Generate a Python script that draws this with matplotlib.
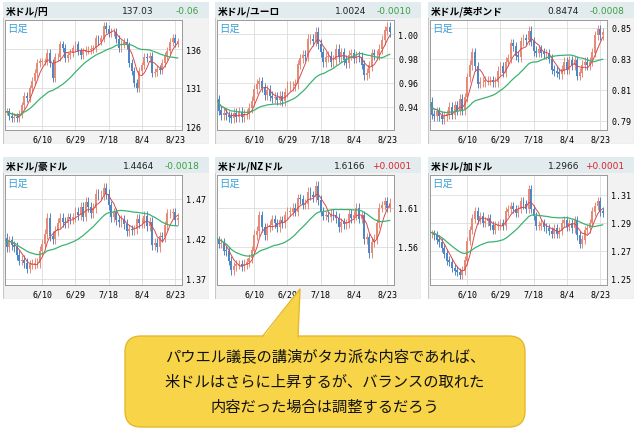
import matplotlib
matplotlib.use("Agg")
import matplotlib.pyplot as plt
import numpy as np
import pandas as pd
from matplotlib.patches import FancyBboxPatch, Polygon, Rectangle

W, H = 638, 435
JP = "Noto Sans CJK JP"

dates = pd.bdate_range("2022-05-19", "2022-08-24")
tick_labels = ["6/10", "6/29", "7/18", "8/4", "8/23"]
tick_dates = ["2022-06-10", "2022-06-29", "2022-07-18", "2022-08-04", "2022-08-23"]

names = ["米ドル/円", "米ドル/ユーロ", "米ドル/英ポンド", "米ドル/豪ドル", "米ドル/NZドル", "米ドル/加ドル"]
prices = ["137.03", "1.0024", "0.8474", "1.4464", "1.6166", "1.2966"]
changes = ["-0.06", "-0.0010", "-0.0008", "-0.0018", "+0.0001", "+0.0001"]

jpy = [127.8,127.9,127.9,127.3,127.1,127.2,127.1,127.6,128.7,
       129.9,129.7,130.9,131.9,132.9,134.2,134.4,134.4,134.4,135.5,134.2,132.2,135.0,135.0,136.6,136.2,134.9,135.2,135.5,136.1,136.6,135.7,
       135.2,135.7,135.9,135.9,136.0,136.1,137.4,137.0,137.4,139.0,138.6,138.1,138.2,138.2,137.3,136.1,136.7,136.9,136.5,134.2,133.2,
       131.6,131.0,133.2,133.9,135.0,134.9,135.1,132.9,133.0,133.4,133.3,134.2,135.1,135.8,136.9,137.5,136.8,137.0]
eur = [0.947,0.946,0.937,0.933,0.935,0.933,0.932,0.931,0.935,
       0.932,0.936,0.932,0.934,0.934,0.939,0.945,0.955,0.959,0.961,0.956,0.950,0.954,0.949,0.947,0.948,0.946,0.949,0.945,0.952,0.957,0.957,
       0.957,0.959,0.975,0.980,0.983,0.982,0.996,0.996,0.994,1.002,0.992,0.985,0.977,0.981,0.982,0.977,0.979,0.988,0.981,0.985,0.979,
       0.976,0.983,0.984,0.980,0.982,0.981,0.975,0.966,0.968,0.974,0.984,0.983,0.983,0.988,0.995,1.003,1.006,1.002]
gbp = [0.801,0.802,0.794,0.793,0.796,0.793,0.791,0.793,0.794,
       0.799,0.794,0.800,0.797,0.804,0.797,0.805,0.818,0.826,0.834,0.825,0.814,0.815,0.815,0.816,0.816,0.816,0.815,0.815,0.822,0.825,0.821,
       0.828,0.830,0.840,0.838,0.832,0.831,0.841,0.843,0.842,0.848,0.841,0.835,0.834,0.836,0.834,0.833,0.833,0.830,0.823,0.822,0.821,
       0.820,0.823,0.828,0.823,0.829,0.826,0.829,0.819,0.821,0.826,0.828,0.826,0.828,0.834,0.845,0.849,0.845,0.847]
aud = [1.420,1.421,1.410,1.418,1.412,1.410,1.400,1.393,1.394,
       1.390,1.383,1.388,1.389,1.390,1.390,1.405,1.414,1.426,1.446,1.424,1.420,1.430,1.440,1.446,1.441,1.440,1.447,1.445,1.447,1.454,1.450,
       1.460,1.448,1.466,1.460,1.452,1.459,1.476,1.475,1.475,1.484,1.476,1.462,1.447,1.453,1.444,1.441,1.444,1.439,1.430,1.432,1.431,
       1.432,1.445,1.440,1.440,1.449,1.436,1.441,1.412,1.415,1.410,1.423,1.422,1.437,1.452,1.452,1.453,1.444,1.446]
nzd = [1.575,1.568,1.564,1.565,1.555,1.554,1.542,1.530,1.535,
       1.537,1.537,1.535,1.538,1.540,1.545,1.555,1.575,1.580,1.600,1.585,1.575,1.585,1.588,1.595,1.590,1.585,1.594,1.590,1.600,1.605,1.605,
       1.610,1.605,1.622,1.621,1.614,1.615,1.630,1.626,1.624,1.638,1.620,1.605,1.600,1.600,1.598,1.602,1.600,1.597,1.585,1.591,1.589,
       1.590,1.602,1.597,1.600,1.610,1.596,1.600,1.570,1.572,1.552,1.566,1.570,1.590,1.610,1.613,1.618,1.610,1.616]
cad = [1.285,1.282,1.282,1.281,1.278,1.276,1.272,1.268,1.263,
       1.262,1.258,1.256,1.255,1.253,1.256,1.263,1.277,1.285,1.293,1.298,1.292,1.295,1.290,1.291,1.293,1.288,1.285,1.288,1.288,1.290,1.288,
       1.298,1.300,1.302,1.300,1.297,1.300,1.305,1.303,1.300,1.314,1.300,1.295,1.288,1.288,1.290,1.287,1.286,1.284,1.282,1.286,1.282,
       1.284,1.290,1.292,1.287,1.290,1.286,1.292,1.281,1.275,1.278,1.285,1.286,1.290,1.298,1.302,1.305,1.298,1.297]
series = [jpy, eur, gbp, aud, nzd, cad]
yticks = [[126, 131, 136], [0.94, 0.96, 0.98, 1.00], [0.79, 0.81, 0.83, 0.85],
          [1.37, 1.42, 1.47], [1.56, 1.61], [1.25, 1.27, 1.29, 1.31]]
ylims = [(125.5, 139.8), (0.921, 1.0117), (0.784, 0.855), (1.3625, 1.50), (1.511, 1.652), (1.2457, 1.324)]
wicks = [0.5, 0.004, 0.003, 0.006, 0.006, 0.003]
ylab_fmt = ["{:.0f}", "{:.2f}", "{:.2f}", "{:.2f}", "{:.2f}", "{:.2f}"]

fig = plt.figure(figsize=(W / 100, H / 100), dpi=100)
fig.patch.set_facecolor("white")

def ax_px(x, y, w, h, **kw):
    return fig.add_axes([x / W, 1 - (y + h) / H, w / W, h / H], **kw)

col_x = [3, 215, 428]
row_y = [3, 158]
pw, ph = 206, 142
tick_idx = [list(dates).index(pd.Timestamp(d)) for d in tick_dates]

for k in range(6):
    x0 = col_x[k % 3]; y0 = row_y[k // 3]
    bg = ax_px(x0, y0, pw, ph)
    bg.set_xlim(0, pw); bg.set_ylim(ph, 0); bg.axis("off")
    bg.add_patch(Rectangle((0, 0), pw, ph, facecolor="#f2f2f2", edgecolor="#c8c8c8", lw=0.8))
    bg.add_patch(Rectangle((0, 0), pw, 16, facecolor="#e2ecef", edgecolor="none"))
    bg.text(3, 8.5, names[k], fontfamily=JP, fontsize=7, fontweight="bold", va="center", ha="left")
    bg.text(151, 8.5, prices[k], fontfamily="DejaVu Sans", fontsize=6.5, va="center", ha="right", color="#222")
    bg.text(196, 8.5, changes[k], fontfamily="DejaVu Sans", fontsize=6.5, va="center", ha="right",
            color="#e0202a" if changes[k].startswith("+") else "#3aa040")

    ax = ax_px(x0 + 2, y0 + 18, 177, 110)
    ax.set_facecolor("white")
    c = np.array(series[k], dtype=float)
    o = np.concatenate([[c[0]], c[:-1]])
    w = wicks[k]
    hi = np.maximum(o, c) + w; lo = np.minimum(o, c) - w
    idx = np.arange(len(c))
    up = c >= o
    cols = np.where(up, "#e88a78", "#4f86c6")
    ax.vlines(idx, lo, hi, colors=cols, lw=0.7, zorder=3)
    ax.bar(idx, np.abs(c - o) + w * 0.05, bottom=np.minimum(o, c), width=0.75, color=cols, zorder=3)
    s = pd.Series(c)
    ax.plot(idx, s.rolling(5, min_periods=1).mean(), color="#d84a4a", lw=0.7, zorder=4)
    ax.plot(idx, s.rolling(25, min_periods=1).mean(), color="#3cb371", lw=0.9, zorder=4)
    ax.set_xlim(1.4, 70.7)
    ax.set_ylim(*ylims[k])
    ax.set_xticks(tick_idx)
    ax.set_xticklabels(tick_labels, fontfamily="DejaVu Sans Mono", fontsize=6)
    ax.set_yticks(yticks[k])
    ax.set_yticklabels([ylab_fmt[k].format(v) for v in yticks[k]], fontfamily="DejaVu Sans Mono", fontsize=6)
    ax.yaxis.tick_right()
    ax.tick_params(length=0, pad=3)
    ax.grid(True, color="#dddddd", lw=0.6, zorder=0)
    for sp in ax.spines.values():
        sp.set_color("#999999"); sp.set_linewidth(0.7)
    ax.text(0.015, 0.97, "日足", transform=ax.transAxes, fontfamily=JP, fontsize=7.5,
            color="#3aa0d8", va="top", ha="left")

ov = ax_px(0, 0, W, H)
ov.set_xlim(0, W); ov.set_ylim(H, 0); ov.axis("off"); ov.patch.set_alpha(0)
ov.add_patch(FancyBboxPatch((125, 337), 400, 91, boxstyle="round,pad=0,rounding_size=16",
                            facecolor="#f8d448", edgecolor="#e6b830", lw=1))
ov.add_patch(Polygon([(262, 340), (300, 290), (298, 340)], closed=True,
                     facecolor="#f8d448", edgecolor="none"))
ov.plot([262, 300, 298], [338, 290, 338], color="#e6b830", lw=1)
ov.add_patch(Rectangle((261, 336.5), 38, 4, facecolor="#f8d448", edgecolor="none"))
lines = ["パウエル議長の講演がタカ派な内容であれば、",
         "米ドルはさらに上昇するが、バランスの取れた",
         "内容だった場合は調整するだろう"]
for i, t in enumerate(lines):
    ov.text(325, 357 + 25 * i, t, fontfamily=JP, fontsize=11, ha="center", va="center", color="#111")

fig.savefig("out.png", dpi=100)
